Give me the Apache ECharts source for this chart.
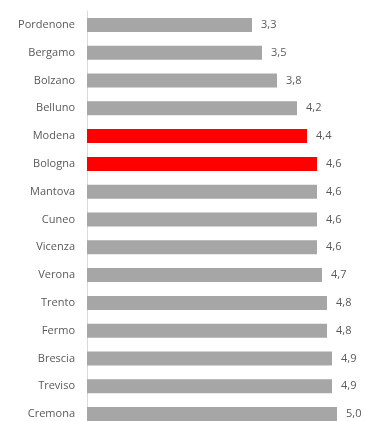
<!DOCTYPE html>
<html>
<head>
<meta charset="utf-8">
<script src="https://cdn.jsdelivr.net/npm/echarts@6/dist/echarts.min.js"></script>
<style>
  html, body { margin: 0; padding: 0; background: #ffffff; }
  #chart { width: 365px; height: 421px; }
</style>
</head>
<body>
<div id="chart"></div>
<script>
// Provinces, top to bottom
const provinces = ['Pordenone', 'Bergamo', 'Bolzano', 'Belluno', 'Modena', 'Bologna', 'Mantova',
  'Cuneo', 'Vicenza', 'Verona', 'Trento', 'Fermo', 'Brescia', 'Treviso', 'Cremona'];
const values = [3.3, 3.5, 3.8, 4.2, 4.4, 4.6, 4.6, 4.6, 4.6, 4.7, 4.8, 4.8, 4.9, 4.9, 5.0];
// Provinces drawn in the highlight colour
const highlighted = ['Modena', 'Bologna'];

const chart = echarts.init(document.getElementById('chart'), null, { renderer: 'canvas' });

chart.setOption({
  animation: false,
  grid: {
    left: 87, top: 11, width: 275, height: 417,
    containLabel: false, outerBoundsMode: 'none'
  },
  xAxis: {
    type: 'value', min: 0, max: 5.5,
    show: false
  },
  yAxis: {
    type: 'category',
    data: provinces,
    inverse: true,
    axisLine: { show: true, lineStyle: { color: '#d9d9d9', width: 1 } },
    axisTick: { show: false },
    axisLabel: {
      color: '#595959', fontFamily: 'Open Sans', fontSize: 11, margin: 12
    }
  },
  series: [{
    type: 'bar',
    barWidth: 14,
    data: values.map((v, i) => ({
      value: v,
      itemStyle: { color: highlighted.includes(provinces[i]) ? '#ff0000' : '#a6a6a6' }
    })),
    label: {
      show: true, position: 'right', distance: 9,
      color: '#595959', fontFamily: 'Open Sans', fontSize: 11,
      formatter: p => p.value.toFixed(1).replace('.', ',')
    }
  }]
});
</script>
</body>
</html>
